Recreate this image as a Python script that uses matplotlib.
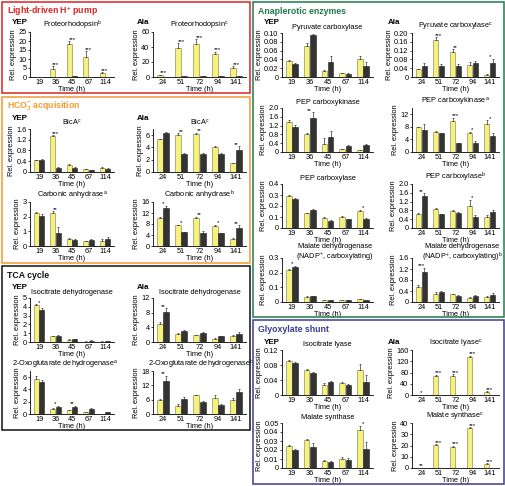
import numpy as np
import matplotlib
matplotlib.use("Agg")
import matplotlib.pyplot as plt
from matplotlib.patches import Rectangle

plt.rcParams['font.family'] = ['Liberation Sans', 'DejaVu Sans']
plt.rcParams['mathtext.fontset'] = 'custom'
plt.rcParams['mathtext.rm'] = 'Liberation Sans'
plt.rcParams['mathtext.bf'] = 'Liberation Sans:bold'

W, H = 506, 486

# time points (h)
times_yep = ['19', '36', '45', '67', '114']
times_ala = ['24', '51', '72', '94', '141']

# each *_mean / *_sd : [yellow series, dark series]
# --- Light-driven H+ pump
pr_yep_mean = [[0.05, 4.5, 18.3, 11.2, 2.2], [0.05, 0.1, 0.4, 0.1, 0.1]]
pr_yep_sd = [[0, 1.5, 1.5, 3.0, 0.3], [0, 0, 0.1, 0, 0]]
pr_yep_sig = ['', '***', '***', '***', '***']
pr_ala_mean = [[2.5, 39, 44, 30, 12.5], [0.5, 0.8, 0.8, 0.8, 1.0]]
pr_ala_sd = [[0.5, 6, 6, 3.5, 1.5], [0, 0, 0, 0, 0]]
pr_ala_sig = ['***', '***', '***', '***', '***']

# --- HCO3- acquisition
bica_yep_mean = [[0.44, 1.33, 0.26, 0.10, 0.14], [0.45, 0.15, 0.15, 0.08, 0.11]]
bica_yep_sd = [[0.02, 0.04, 0.04, 0.01, 0.03], [0.03, 0.05, 0.02, 0.01, 0.04]]
bica_yep_sig = ['', '***', '', '', '']
bica_ala_mean = [[5.3, 6.0, 6.2, 4.0, 1.4], [6.3, 2.9, 2.9, 3.0, 3.5]]
bica_ala_sd = [[0.15, 0.3, 0.2, 0.2, 0.1], [0.15, 0.2, 0.2, 0.1, 0.7]]
bica_ala_sig = ['', '**', '**', '', '**']
ca_yep_mean = [[2.28, 2.25, 0.48, 0.33, 0.36], [2.05, 0.90, 0.42, 0.38, 0.45]]
ca_yep_sd = [[0.07, 0.12, 0.04, 0.03, 0.10], [0.10, 0.40, 0.06, 0.08, 0.15]]
ca_yep_sig = ['', '**', '', '', '']
ca_ala_mean = [[10.2, 7.6, 10.3, 7.3, 2.6], [13.7, 5.0, 4.9, 4.7, 6.5]]
ca_ala_sd = [[0.3, 0.2, 0.3, 0.5, 0.3], [1.0, 0.2, 0.4, 0.2, 1.0]]
ca_ala_sig = ['*', '*', '**', '*', '**']

# --- TCA cycle
idh_yep_mean = [[4.2, 0.65, 0.25, 0.05, 0.05], [3.6, 0.72, 0.32, 0.13, 0.07]]
idh_yep_sd = [[0.1, 0.05, 0.08, 0.05, 0.02], [0.3, 0.05, 0.06, 0.05, 0.02]]
idh_yep_sig = ['*', '', '', '', '']
idh_ala_mean = [[5.0, 2.3, 1.8, 0.9, 1.6], [8.2, 3.1, 2.4, 1.6, 2.2]]
idh_ala_sd = [[0.4, 0.1, 0.1, 0.1, 0.2], [1.0, 0.2, 0.2, 0.1, 0.5]]
idh_ala_sig = ['**', '', '', '', '']
ogdh_yep_mean = [[5.7, 0.8, 0.6, 0.3, 0.02], [5.2, 1.2, 1.2, 0.8, 0.35]]
ogdh_yep_sd = [[0.5, 0.1, 0.1, 0.1, 0], [0.4, 0.1, 0.15, 0.1, 0.05]]
ogdh_yep_sig = ['', '*', '**', '', '']
ogdh_ala_mean = [[5.8, 3.5, 7.8, 6.6, 5.9], [14.0, 6.2, 4.9, 3.9, 9.4]]
ogdh_ala_sd = [[0.3, 0.8, 0.3, 1.5, 1.0], [2.0, 0.8, 0.4, 0.3, 1.2]]
ogdh_ala_sig = ['**', '', '', '', '']

# --- Anaplerotic enzymes
pc_yep_mean = [[0.037, 0.071, 0.013, 0.009, 0.040], [0.030, 0.095, 0.035, 0.007, 0.026]]
pc_yep_sd = [[0.002, 0.007, 0.003, 0.001, 0.008], [0.002, 0.002, 0.013, 0.001, 0.009]]
pc_yep_sig = ['', '', '', '', '']
pc_ala_mean = [[0.035, 0.168, 0.115, 0.053, 0.010], [0.048, 0.048, 0.050, 0.065, 0.063]]
pc_ala_sd = [[0.003, 0.012, 0.010, 0.015, 0.002], [0.015, 0.012, 0.010, 0.008, 0.020]]
pc_ala_sig = ['', '***', '**', '', '*']
pepck_yep_mean = [[1.35, 0.80, 0.38, 0.12, 0.08], [1.15, 1.55, 0.70, 0.25, 0.30]]
pepck_yep_sd = [[0.10, 0.06, 0.25, 0.02, 0.02], [0.07, 0.25, 0.25, 0.05, 0.06]]
pepck_yep_sig = ['', '**', '', '', '']
pepck_ala_mean = [[7.8, 6.5, 10.0, 6.2, 8.8], [7.0, 6.0, 2.8, 2.8, 5.1]]
pepck_ala_sd = [[0.3, 0.3, 0.8, 0.3, 1.3], [2.0, 0.2, 0.1, 0.7, 0.8]]
pepck_ala_sig = ['', '', '***', '*', '*']
ppc_yep_mean = [[0.295, 0.135, 0.095, 0.100, 0.155], [0.265, 0.165, 0.065, 0.080, 0.080]]
ppc_yep_sd = [[0.005, 0.005, 0.008, 0.005, 0.010], [0.008, 0.008, 0.005, 0.005, 0.010]]
ppc_yep_sig = ['', '', '', '', '*']
ppc_ala_mean = [[0.65, 0.85, 0.75, 0.98, 0.52], [1.45, 0.62, 0.70, 0.52, 0.72]]
ppc_ala_sd = [[0.02, 0.08, 0.05, 0.30, 0.05], [0.12, 0.03, 0.03, 0.05, 0.12]]
ppc_ala_sig = ['**', '', '', '*', '']
mdh_yep_mean = [[0.220, 0.035, 0.013, 0.012, 0.018], [0.240, 0.040, 0.015, 0.012, 0.015]]
mdh_yep_sd = [[0.005, 0.003, 0.003, 0.002, 0.002], [0.005, 0.003, 0.002, 0.002, 0.002]]
mdh_yep_sig = ['*', '', '', '', '']
mdh_ala_mean = [[0.55, 0.30, 0.28, 0.15, 0.18], [1.10, 0.38, 0.23, 0.22, 0.25]]
mdh_ala_sd = [[0.05, 0.06, 0.02, 0.02, 0.03], [0.15, 0.03, 0.02, 0.02, 0.06]]
mdh_ala_sig = ['***', '', '', '', '']

# --- Glyoxylate shunt
icl_yep_mean = [[0.090, 0.066, 0.026, 0.032, 0.068], [0.085, 0.060, 0.035, 0.027, 0.036]]
icl_yep_sd = [[0.003, 0.003, 0.005, 0.003, 0.015], [0.004, 0.002, 0.003, 0.002, 0.018]]
icl_yep_sig = ['', '', '', '', '']
icl_ala_mean = [[0.5, 68, 69, 135, 12], [0.3, 0.3, 0.3, 0.3, 0.3]]
icl_ala_sd = [[0, 4, 5, 4, 1.5], [0, 0, 0, 0, 0]]
icl_ala_sig = ['*', '***', '***', '***', '***']
ms_yep_mean = [[0.025, 0.031, 0.0075, 0.0105, 0.042], [0.020, 0.0235, 0.0068, 0.0088, 0.0215]]
ms_yep_sd = [[0.001, 0.001, 0.001, 0.002, 0.005], [0.001, 0.004, 0.0005, 0.002, 0.007]]
ms_yep_sig = ['', '', '', '', '*']
ms_ala_mean = [[0.2, 20.5, 19.0, 35.5, 3.8], [0.1, 0.1, 0.1, 0.1, 0.1]]
ms_ala_sd = [[0, 0.7, 0.7, 0.7, 0.5], [0, 0, 0, 0, 0]]
ms_ala_sig = ['**', '***', '***', '***', '***']

YELLOW = '#f6f07c'
DARK = '#333333'


def sup(s):
    return r'$^{\mathregular{' + s + '}}$'


def rect(x0, x1, y0, y1):
    return [x0 / W, 1 - y1 / H, (x1 - x0) / W, (y1 - y0) / H]


fig = plt.figure(figsize=(W / 100, H / 100), dpi=100)


def panel(box, times, mean, sd, sig, yticks, ylabels, title, top=None, tx=0.5):
    ax = fig.add_axes(box)
    x = np.arange(len(times))
    w = 0.32
    ax.bar(x - 0.17, mean[0], w, color=YELLOW, edgecolor='#77774a', linewidth=0.4, zorder=2)
    ax.bar(x + 0.17, mean[1], w, color=DARK, edgecolor='#222222', linewidth=0.4, zorder=2)
    for k, off in enumerate([-0.17, 0.17]):
        m = np.array(mean[k])
        e = np.array(sd[k])
        ax.errorbar(x + off, m, yerr=[np.zeros_like(e), e], fmt='none', ecolor='#333333',
                    elinewidth=0.5, capsize=1.0, capthick=0.5, zorder=3)
    ymax = top if top is not None else yticks[-1]
    for i, s in enumerate(sig):
        if s:
            h = max(mean[0][i] + sd[0][i], mean[1][i] + sd[1][i])
            ax.text(x[i], h - ymax * 0.01, s, ha='center', va='bottom', fontsize=4.5)
    ax.set_xlim(-0.55, len(times) - 0.45)
    ax.set_ylim(0, ymax)
    ax.set_yticks(yticks)
    ax.set_yticklabels(ylabels)
    ax.set_xticks(x)
    ax.set_xticklabels(times)
    for sp in ['top', 'right']:
        ax.spines[sp].set_visible(False)
    ax.spines['left'].set_linewidth(0.6)
    ax.spines['bottom'].set_linewidth(0.6)
    ax.tick_params(axis='y', length=1.5, width=0.5, pad=1, labelsize=5.3)
    ax.tick_params(axis='x', length=0, pad=1.5, labelsize=5.3)
    ax.set_xlabel('Time (h)', fontsize=5.3, labelpad=0)
    ax.set_ylabel('Rel. expression', fontsize=5.3, labelpad=1)
    if '\n' in title:
        ax.text(0.58, 1.33, title, transform=ax.transAxes, ha='center', va='top',
                fontsize=5.3, linespacing=1.0)
    else:
        ax.set_title(title, fontsize=5.3, pad=3, x=tx)
    return ax


LY, LA = (30, 114), (153, 246)
RY, RA = (282, 373), (412, 499)

# Light-driven H+ pump
panel(rect(*LY, 32, 77), times_yep, pr_yep_mean, pr_yep_sd, pr_yep_sig,
      [0, 5, 10, 15, 20, 25], ['0', '5', '10', '15', '20', '25'], 'Proteorhodopsin' + sup('b'))
panel(rect(*LA, 32, 77), times_ala, pr_ala_mean, pr_ala_sd, pr_ala_sig,
      [0, 20, 40, 60], ['0', '20', '40', '60'], 'Proteorhodopsin' + sup('c'))

# HCO3- acquisition
panel(rect(*LY, 129, 172), times_yep, bica_yep_mean, bica_yep_sd, bica_yep_sig,
      [0, 0.4, 0.8, 1.2, 1.6], ['0', '0.4', '0.8', '1.2', '1.6'], 'BicA' + sup('c'))
panel(rect(*LA, 129, 172), times_ala, bica_ala_mean, bica_ala_sd, bica_ala_sig,
      [0, 2, 4, 6], ['0', '2', '4', '6'], 'BicA' + sup('c'), top=7)
panel(rect(*LY, 202, 246), times_yep, ca_yep_mean, ca_yep_sd, ca_yep_sig,
      [0, 1, 2, 3], ['0', '1', '2', '3'], 'Carbonic anhydrase' + sup('a'))
panel(rect(*LA, 202, 246), times_ala, ca_ala_mean, ca_ala_sd, ca_ala_sig,
      [0, 4, 8, 12, 16], ['0', '4', '8', '12', '16'], 'Carbonic anhydrase' + sup('b'))

# TCA cycle
panel(rect(*LY, 298, 342), times_yep, idh_yep_mean, idh_yep_sd, idh_yep_sig,
      [0, 1, 2, 3, 4, 5], ['0', '1', '2', '3', '4', '5'], 'Isocitrate dehydrogenase')
panel(rect(*LA, 298, 342), times_ala, idh_ala_mean, idh_ala_sd, idh_ala_sig,
      [0, 4, 8, 12], ['0', '4', '8', '12'], 'Isocitrate dehydrogenase')
panel(rect(*LY, 371, 414), times_yep, ogdh_yep_mean, ogdh_yep_sd, ogdh_yep_sig,
      [0, 2, 4, 6], ['0', '2', '4', '6'], '2-Oxoglutarate dehydrogenase' + sup('a'), top=7,
      tx=0.42)
panel(rect(*LA, 371, 414), times_ala, ogdh_ala_mean, ogdh_ala_sd, ogdh_ala_sig,
      [0, 6, 12, 18], ['0', '6', '12', '18'], '2-Oxoglutarate dehydrogenase' + sup('b'),
      tx=0.52)

# Anaplerotic enzymes
panel(rect(*RY, 33, 77), times_yep, pc_yep_mean, pc_yep_sd, pc_yep_sig,
      [0, 0.02, 0.04, 0.06, 0.08, 0.10], ['0', '0.02', '0.04', '0.06', '0.08', '0.10'],
      'Pyruvate carboxylase')
panel(rect(*RA, 33, 77), times_ala, pc_ala_mean, pc_ala_sd, pc_ala_sig,
      [0, 0.04, 0.08, 0.12, 0.16, 0.20], ['0', '0.04', '0.08', '0.12', '0.16', '0.20'],
      'Pyruvate carboxylase' + sup('c'))
panel(rect(*RY, 108, 152), times_yep, pepck_yep_mean, pepck_yep_sd, pepck_yep_sig,
      [0, 0.4, 0.8, 1.2, 1.6, 2.0], ['0', '0.4', '0.8', '1.2', '1.6', '2.0'], 'PEP carboxykinase')
panel(rect(*RA, 108, 152), times_ala, pepck_ala_mean, pepck_ala_sd, pepck_ala_sig,
      [0, 4, 8, 12], ['0', '4', '8', '12'], 'PEP carboxykinase' + sup('a'), top=14)
panel(rect(*RY, 184, 228), times_yep, ppc_yep_mean, ppc_yep_sd, ppc_yep_sig,
      [0, 0.1, 0.2, 0.3, 0.4], ['0', '0.1', '0.2', '0.3', '0.4'], 'PEP carboxylase')
panel(rect(*RA, 184, 228), times_ala, ppc_ala_mean, ppc_ala_sd, ppc_ala_sig,
      [0, 0.4, 0.8, 1.2, 1.6, 2.0], ['0', '0.4', '0.8', '1.2', '1.6', '2.0'],
      'PEP carboxylase' + sup('b'))
panel(rect(*RY, 258, 302), times_yep, mdh_yep_mean, mdh_yep_sd, mdh_yep_sig,
      [0, 0.1, 0.2, 0.3], ['0', '0.1', '0.2', '0.3'],
      'Malate dehydrogenase\n(NADP' + sup('+') + ', carboxylating)')
panel(rect(*RA, 258, 302), times_ala, mdh_ala_mean, mdh_ala_sd, mdh_ala_sig,
      [0, 0.4, 0.8, 1.2, 1.6], ['0', '0.4', '0.8', '1.2', '1.6'],
      'Malate dehydrogenase\n(NADP' + sup('+') + ', carboxylating)' + sup('b'))

# Glyoxylate shunt
panel(rect(*RY, 350, 395), times_yep, icl_yep_mean, icl_yep_sd, icl_yep_sig,
      [0, 0.04, 0.08, 0.12], ['0', '0.04', '0.08', '0.12'], 'Isocitrate lyase')
panel(rect(*RA, 350, 395), times_ala, icl_ala_mean, icl_ala_sd, icl_ala_sig,
      [0, 40, 80, 120, 160], ['0', '40', '80', '120', '160'], 'Isocitrate lyase' + sup('c'))
panel(rect(*RY, 423, 468), times_yep, ms_yep_mean, ms_yep_sd, ms_yep_sig,
      [0, 0.01, 0.02, 0.03, 0.04, 0.05], ['0', '0.01', '0.02', '0.03', '0.04', '0.05'],
      'Malate synthase')
panel(rect(*RA, 423, 468), times_ala, ms_ala_mean, ms_ala_sd, ms_ala_sig,
      [0, 10, 20, 30, 40], ['0', '10', '20', '30', '40'], 'Malate synthase' + sup('c'))

# section boxes and headers
boxes = [
    ((2, 2, 250, 93), '#dd2222', 'Light-driven H' + sup('+') + ' pump'),
    ((2, 97, 250, 263), '#f39a30', r'HCO$_{\mathregular{3}}^{\mathregular{-}}$ acquisition'),
    ((2, 266, 250, 430), '#111111', 'TCA cycle'),
    ((253, 2, 504, 317), '#1f7a4d', 'Anaplerotic enzymes'),
    ((253, 320, 504, 484), '#3b3b94', 'Glyoxylate shunt'),
]
for (x0, y0, x1, y1), col, label in boxes:
    fig.patches.append(Rectangle((x0 / W, 1 - y1 / H), (x1 - x0) / W, (y1 - y0) / H,
                                 transform=fig.transFigure, fill=False, edgecolor=col,
                                 linewidth=1.1))
    fig.text((x0 + 5) / W, 1 - (y0 + 9) / H, label, color=col, fontsize=6.3,
             fontweight='bold', ha='left', va='center')

# medium labels
for x, y, s in [(12, 23, 'YEP'), (137, 23, 'Ala'), (12, 118, 'YEP'), (137, 118, 'Ala'),
                (12, 287, 'YEP'), (137, 287, 'Ala'), (264, 23, 'YEP'), (388, 23, 'Ala'),
                (264, 342, 'YEP'), (388, 342, 'Ala')]:
    fig.text(x / W, 1 - y / H, s, fontsize=5.8, fontweight='bold', ha='left', va='center')

fig.savefig('out.png', dpi=100)
